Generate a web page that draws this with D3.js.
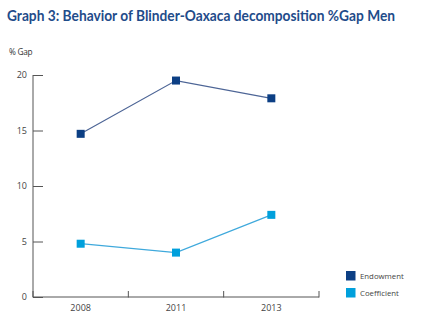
<!DOCTYPE html>
<html><head><meta charset="utf-8">
<script src="https://cdn.jsdelivr.net/npm/d3@7"></script>
<style>body{margin:0;background:#fff}svg{display:block}</style>
</head><body>
<svg id="c" width="427" height="328"></svg>
<script>
const years = ["2008", "2011", "2013"];
const endowment = [14.7, 19.5, 17.9];
const coefficient = [4.8, 4.0, 7.4];
const yTicks = [0, 5, 10, 15, 20];
const seriesNames = ["Endowment", "Coefficient"];
const colors = ["#0c3f84", "#00a0dc"];
const lineColors = ["#4d6596", "#3fa9dc"];

const svg = d3.select("#c");
const font = "'Open Sans', sans-serif";
const x = d3.scaleBand().domain(years).range([33, 319]);
const y = d3.scaleLinear().domain([0, 20]).range([297, 75]);

svg.append("text").attr("x", 7).attr("y", 21).attr("fill", "#1f4c8a")
  .attr("font-family", "Lato, sans-serif").attr("font-weight", "bold").attr("font-size", 14.5)
  .attr("textLength", 388).attr("lengthAdjust", "spacingAndGlyphs")
  .text("Graph 3: Behavior of Blinder-Oaxaca decomposition %Gap Men");

svg.append("text").attr("x", 9).attr("y", 55).attr("fill", "#333")
  .attr("font-family", font).attr("font-size", 8.3).attr("letter-spacing", -0.3).text("% Gap");

// y axis
const yAxis = svg.append("g").attr("transform", "translate(33,0)")
  .call(d3.axisRight(y).tickValues(yTicks).tickSize(10).tickFormat(d3.format("d")));
yAxis.select(".domain").attr("stroke", "#555").attr("d", "M0,75V297");
yAxis.selectAll(".tick line").attr("stroke", "#555");
yAxis.selectAll(".tick text").attr("x", -6).attr("text-anchor", "end")
  .attr("font-family", font).attr("font-size", 9).attr("fill", "#444");

// x axis
const xAxis = svg.append("g").attr("transform", "translate(0,297)")
  .call(d3.axisTop(x).tickSize(0));
xAxis.select(".domain").remove();
xAxis.selectAll(".tick text").attr("y", 14).attr("dy", 0)
  .attr("font-family", font).attr("font-size", 9).attr("fill", "#444");
const bounds = [x.range()[0], ...years.map(d => x(d) + x.bandwidth())];
svg.append("line").attr("x1", 33).attr("x2", 319).attr("y1", 297).attr("y2", 297).attr("stroke", "#555");
svg.selectAll(".xt").data(bounds).enter().append("line")
  .attr("x1", d => d).attr("x2", d => d).attr("y1", 291).attr("y2", 297.5).attr("stroke", "#555");

// series
const data = [endowment, coefficient];
const line = d3.line().x((d, i) => x(years[i]) + x.bandwidth() / 2).y(d => y(d));
data.forEach((s, k) => {
  svg.append("path").attr("d", line(s)).attr("fill", "none")
    .attr("stroke", lineColors[k]).attr("stroke-width", 1.2);
  svg.selectAll(".m" + k).data(s).enter().append("rect")
    .attr("x", (d, i) => x(years[i]) + x.bandwidth() / 2 - 4)
    .attr("y", d => y(d) - 4).attr("width", 8).attr("height", 8).attr("fill", colors[k]);
});

// legend
seriesNames.forEach((n, k) => {
  svg.append("rect").attr("x", 346).attr("y", 271 + k * 17).attr("width", 9.5).attr("height", 9.5).attr("fill", colors[k]);
  svg.append("text").attr("x", 360).attr("y", 279 + k * 17).attr("fill", "#444")
    .attr("font-family", font).attr("font-size", 7.8).text(n);
});
</script>
</body></html>
